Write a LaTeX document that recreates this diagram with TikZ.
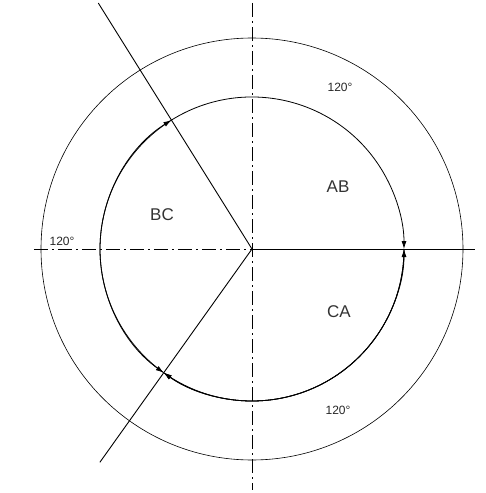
\documentclass[tikz,border=0pt]{standalone}
\usepackage{fontspec}
\setmainfont{Liberation Sans}
\usetikzlibrary{arrows.meta}
\begin{document}
\begin{tikzpicture}[x=1pt,y=1pt,
        axisline/.style={line width=0.8pt,dash pattern=on 14pt off 4pt on 2pt off 4pt},
        phase/.style={line width=0.9pt},
        sector/.style={line width=0.8pt,-{Latex[length=8pt,width=5pt]}},
        zone/.style={font=\fontsize{17}{17}\selectfont,text=black!80},
        angletxt/.style={font=\fontsize{12}{12}\selectfont,text=black!85}]
        \useasboundingbox (-252,-244) rectangle (233,249);
        \coordinate (O) at (0,0);
        % circles
        \draw[line width=0.6pt] (O) circle (211);
        \draw[sector] (122:152) arc (122:0:152);
        \draw[sector] (0:152) arc (0:-125.5:152);
        \draw[sector] (234.5:152) arc (234.5:122:152);
        \draw[sector] (0:152) arc (360:234.5:152);
        \draw[sector] (122:152) arc (122:234.5:152);
        \draw[sector] (-125.5:152) arc (-125.5:0:152);
        % axes
        \coordinate (top) at (0,246);
        \coordinate (bot) at (0,-241);
        \coordinate (left) at (-218,0);
        \coordinate (right) at (223,0);
        \draw[axisline] (top) -- (bot);
        \draw[axisline] (left) -- (O);
        \draw[phase] (O) -- (right);
        \draw[phase] (O) -- (122:290);
        \draw[phase] (O) -- (234.5:262);
        % labels
        \node[zone] (ab) at (86,62) {AB};
        \node[zone] (bc) at (-90,34) {BC};
        \node[zone] (ca) at (87,-63) {CA};
        \node[angletxt] (a1) at (88,162) {120°};
        \node[angletxt] (a2) at (-190,8) {120°};
        \node[angletxt] (a3) at (86,-161) {120°};
\end{tikzpicture}
\end{document}
